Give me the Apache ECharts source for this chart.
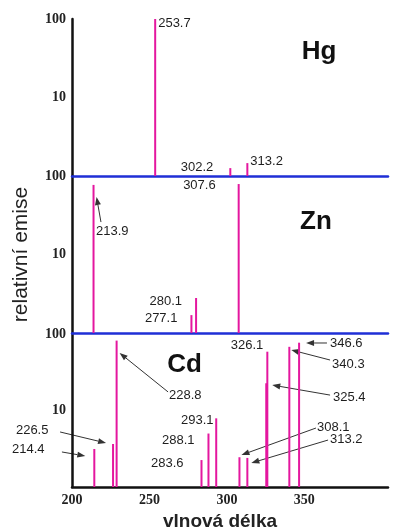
<!DOCTYPE html>
<html>
<head>
<meta charset="utf-8">
<script src="https://cdn.jsdelivr.net/npm/echarts@6/dist/echarts.min.js"></script>
<style>
  html, body { margin: 0; padding: 0; background: #fff; }
  #chart { width: 393px; height: 532px; }
</style>
</head>
<body>
<div id="chart"></div>
<script>
// Emission lines: wavelength (nm) and relative intensity (log scale 1–100)
const elements = ['Hg', 'Zn', 'Cd'];
const hgWavelengths = [253.7, 302.2, 313.2];
const hgIntensity = [100, 1.26, 1.46];
const znWavelengths = [213.9, 277.1, 280.1, 307.6];
const znIntensity = [77, 1.69, 2.79, 79];
const cdWavelengths = [214.4, 226.5, 228.8, 283.6, 288.1, 293.1, 308.1, 313.2, 325.4, 326.1, 340.3, 346.6];
const cdIntensity = [3.14, 3.65, 82, 2.25, 5.0, 7.9, 2.45, 2.4, 22.7, 58.7, 68, 77];
const wavelengthTicks = [200, 250, 300, 350];
const intensityTicks = [10, 100];

const lineSets = [
  [hgWavelengths, hgIntensity],
  [znWavelengths, znIntensity],
  [cdWavelengths, cdIntensity]
];

const LINE_COLOR = '#e4179f';
const SEP_COLOR = '#1f2fd6';
const LABEL_FONT = '"Liberation Sans", Arial, sans-serif';
const TICK_FONT = '"Liberation Serif", "Times New Roman", serif';

const grids = [
  { left: 72, top: 19, width: 316, height: 157 },
  { left: 72, top: 176, width: 316, height: 157 },
  { left: 72, top: 334, width: 316, height: 153 }
];

const xAxes = grids.map((g, i) => ({
  type: 'value',
  gridIndex: i,
  min: 200,
  max: 404,
  interval: 50,
  axisLine: { onZero: false, lineStyle: { color: i < 2 ? SEP_COLOR : '#111', width: 2.5 } },
  axisTick: { show: false },
  splitLine: { show: false },
  axisLabel: {
    show: i === 2,
    margin: 6,
    fontFamily: TICK_FONT,
    fontWeight: 'bold',
    fontSize: 14,
    color: '#222',
    formatter: v => (wavelengthTicks.includes(v) ? String(v) : '')
  },
  name: i === 2 ? 'vlnová délka' : '',
  nameLocation: 'middle',
  nameGap: 25,
  nameTextStyle: {
    fontFamily: LABEL_FONT, fontSize: 19, fontWeight: 'bold', color: '#222',
    padding: [0, 20, 0, 0]
  }
}));

const yAxes = grids.map((g, i) => ({
  type: 'log',
  logBase: 10,
  gridIndex: i,
  min: 1,
  max: 100,
  axisLine: { lineStyle: { color: '#111', width: 2.5 } },
  axisTick: { show: false },
  splitLine: { show: false },
  axisLabel: {
    margin: 6,
    fontFamily: TICK_FONT,
    fontWeight: 'bold',
    fontSize: 14,
    color: '#222',
    formatter: v => (intensityTicks.includes(Math.round(v)) ? String(Math.round(v)) : '')
  },
  name: i === 1 ? 'relativní emise' : '',
  nameLocation: 'middle',
  nameGap: 40,
  nameTextStyle: { fontFamily: LABEL_FONT, fontSize: 21, color: '#222' }
}));

const series = lineSets.map(([wl, val], i) => ({
  type: 'bar',
  xAxisIndex: i,
  yAxisIndex: i,
  barWidth: 2,
  silent: true,
  itemStyle: { color: LINE_COLOR },
  data: wl.map((w, k) => [w, val[k]])
}));

const chart = echarts.init(document.getElementById('chart'), null, { renderer: 'canvas' });
chart.setOption({
  animation: false,
  backgroundColor: '#fff',
  grid: grids,
  xAxis: xAxes,
  yAxis: yAxes,
  series: series
});

// Annotation text anchored in data space of each panel: [nm, intensity]
const notes = [
  { g: 0, text: '253.7', at: [253.7, 89], dx: 3, align: 'left' },
  { g: 0, text: '302.2', at: [302.2, 1.30], dx: -17, align: 'right' },
  { g: 0, text: '313.2', at: [313.2, 1.55], dx: 3, align: 'left' },
  { g: 1, text: '307.6', at: [307.6, 76.8], dx: -23, align: 'right' },
  { g: 1, text: '213.9', at: [215.5, 19.9], dx: 0, align: 'left' },
  { g: 1, text: '280.1', at: [280.1, 2.56], dx: -14, align: 'right' },
  { g: 1, text: '277.1', at: [277.1, 1.55], dx: -14, align: 'right' },
  { g: 2, text: '326.1', at: [326.1, 71.8], dx: -4, align: 'right' },
  { g: 2, text: '346.6', at: [366.6, 76.3], dx: 0, align: 'left' },
  { g: 2, text: '340.3', at: [367.9, 40.5], dx: 0, align: 'left' },
  { g: 2, text: '325.4', at: [368.5, 15], dx: 0, align: 'left' },
  { g: 2, text: '308.1', at: [358.2, 6.09], dx: 0, align: 'left' },
  { g: 2, text: '313.2', at: [366.6, 4.24], dx: 0, align: 'left' },
  { g: 2, text: '228.8', at: [262.6, 15.9], dx: 0, align: 'left' },
  { g: 2, text: '293.1', at: [270.4, 7.51], dx: 0, align: 'left' },
  { g: 2, text: '288.1', at: [258.1, 4.11], dx: 0, align: 'left' },
  { g: 2, text: '283.6', at: [251, 2.06], dx: 0, align: 'left' },
  { g: 2, text: '226.5', at: [163.8, 5.56], dx: 0, align: 'left' },
  { g: 2, text: '214.4', at: [161.3, 3.14], dx: 0, align: 'left' }
];

// Element symbols, centred in each panel
const symbols = [
  { g: 0, at: [359.5, 38] },
  { g: 1, at: [357.5, 25.9] },
  { g: 2, at: [272.6, 39.3] }
];

// Pointer arrows: tail near the text, head on the emission line
const arrows = [
  { g: 1, from: [218.7, 25.9], to: [213.9, 54], dx: 3 },
  { g: 2, from: [364.6, 76.3], to: [346.6, 76.3], dx: 7 },
  { g: 2, from: [366.6, 45.7], to: [340.3, 61.8], dx: 2 },
  { g: 2, from: [366.6, 15.9], to: [325.4, 21.5], dx: 6 },
  { g: 2, from: [357.5, 5.9], to: [308.1, 2.62], dx: 2 },
  { g: 2, from: [365.3, 4.11], to: [313.2, 2.06], dx: 4 },
  { g: 2, from: [262, 17.5], to: [228.8, 56.5], dx: 3 },
  { g: 2, from: [192.3, 5.24], to: [226.5, 3.76], dx: -7 },
  { g: 2, from: [193.5, 2.87], to: [214.4, 2.54], dx: -9 }
];

function px(g, pt) {
  return chart.convertToPixel({ xAxisIndex: g, yAxisIndex: g }, pt);
}

const graphics = [];
notes.forEach(n => {
  const p = px(n.g, n.at);
  graphics.push({
    type: 'text',
    x: p[0] + n.dx,
    y: p[1],
    silent: true,
    style: {
      text: n.text,
      fontFamily: LABEL_FONT,
      fontSize: 13,
      fill: '#1e1e1e',
      align: n.align,
      verticalAlign: 'middle'
    }
  });
});
symbols.forEach((s, i) => {
  const p = px(s.g, s.at);
  graphics.push({
    type: 'text',
    x: p[0],
    y: p[1],
    silent: true,
    style: {
      text: elements[i],
      fontFamily: LABEL_FONT,
      fontSize: 26,
      fontWeight: 'bold',
      fill: '#111',
      align: 'center',
      verticalAlign: 'middle'
    }
  });
});
arrows.forEach(a => {
  const p1 = px(a.g, a.from);
  const p2 = px(a.g, a.to);
  p2[0] += a.dx;
  const ang = Math.atan2(p2[1] - p1[1], p2[0] - p1[0]);
  const len = 8, half = 3;
  const bx = p2[0] - len * Math.cos(ang), by = p2[1] - len * Math.sin(ang);
  const nx = -Math.sin(ang) * half, ny = Math.cos(ang) * half;
  graphics.push({
    type: 'line',
    silent: true,
    shape: { x1: p1[0], y1: p1[1], x2: bx, y2: by },
    style: { stroke: '#333', lineWidth: 1 }
  });
  graphics.push({
    type: 'polygon',
    silent: true,
    shape: { points: [[p2[0], p2[1]], [bx + nx, by + ny], [bx - nx, by - ny]] },
    style: { fill: '#333' }
  });
});

chart.setOption({ graphic: graphics });
</script>
</body>
</html>
